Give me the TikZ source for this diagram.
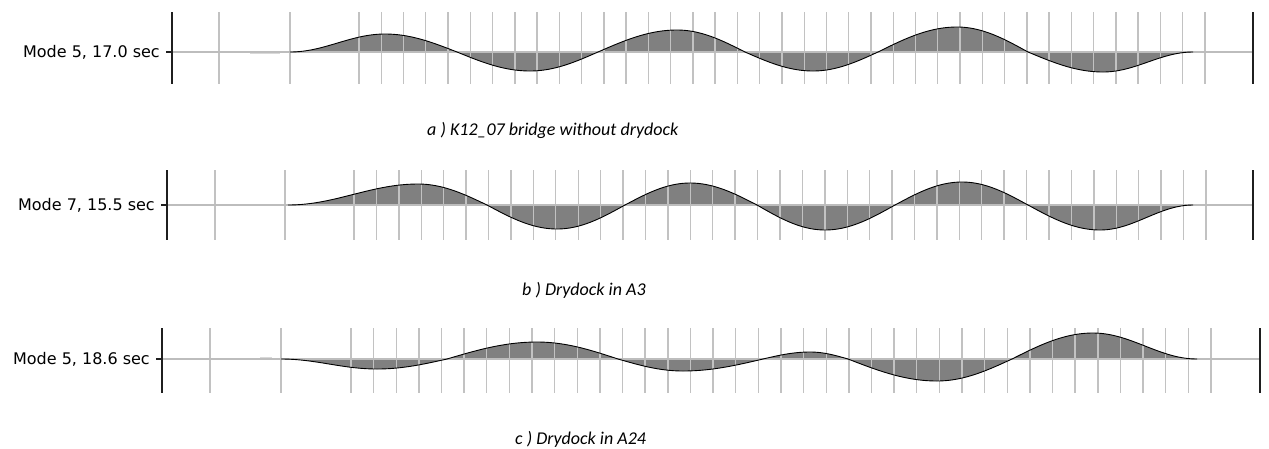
\documentclass[tikz,border=0pt]{standalone}
\usepackage{fontspec}
\setmainfont{Carlito}
\newfontfamily\tickfont{DejaVu Sans}
\pgfdeclarelayer{background}
\pgfdeclarelayer{foreground}
\pgfsetlayers{background,main,foreground}
\tikzset{
	gridline/.style={line width=1.4pt, color=black!24},
	zeroline/.style={line width=1.4pt, color=black!26},
	axisline/.style={line width=1.4pt, color=black!88},
	wavefill/.style={fill=black!50},
	waveline/.style={line width=0.9pt, color=black},
	ticklabel/.style={font=\tickfont\fontsize{16}{19}\selectfont, anchor=east, inner sep=0pt},
	caption/.style={font=\fontsize{18}{22}\selectfont\itshape, anchor=base west, inner sep=0pt}
}
% one half wave: start, peak, end, height, rise power, fall power
\def\lobe(#1:#2:#3:#4:#5:#6){%
	\begin{pgfonlayer}{background}
		\fill[wavefill] (#1,0) -- plot[domain=#1:#2,samples=30] (\x,{#4*sin(90*(\x-#1)/(#2-#1))^#5})
			-- plot[domain=#2:#3,samples=30] (\x,{#4*cos(90*(\x-#2)/(#3-#2))^#6}) -- cycle;
	\end{pgfonlayer}
	\begin{pgfonlayer}{foreground}
		\draw[waveline] plot[domain=#1:#2,samples=30] (\x,{#4*sin(90*(\x-#1)/(#2-#1))^#5})
			-- plot[domain=#2:#3,samples=30] (\x,{#4*cos(90*(\x-#2)/(#3-#2))^#6});
	\end{pgfonlayer}
}

\begin{document}
\begin{tikzpicture}[x=1pt, y=-1pt]
	%%%%% START %%%%%
	\useasboundingbox (0,0) rectangle (1269,448);
	
	% a ) mode 5, 17.0 sec
	\foreach \gx in {219,290} \draw[gridline] (\gx,12) -- (\gx,84);
	\foreach \i in {0,...,38} \draw[gridline] ({359+\i*22.26},12) -- ({359+\i*22.26},84);
	\draw[line width=2pt, color=black!15] (250,52.5) -- (280,52.5);
	\draw[zeroline] (172,52) -- (1253,52);
	\begin{scope}[shift={(0,52)}, yscale=-1]
		\lobe(290:385:457:18:2:1)
		\lobe(457:530:598:-19:1:1)
		\lobe(598:677:745:22:1:1)
		\lobe(745:813:878:-19:1:1)
		\lobe(878:957:1028:25:1:1)
		\lobe(1028:1103:1193:-20:1:2)
	\end{scope}
	\draw[axisline] (172,12) -- (172,84);
	\draw[axisline] (1253,12) -- (1253,84);
	\draw[axisline] (166,52) -- (172,52);
	\node[ticklabel] (modeA) at (160,52) {Mode 5, 17.0 sec};
	\node[caption] (capA) at (427,135) {a ) K12\_07 bridge without drydock};
	
	% b ) mode 7, 15.5 sec
	\foreach \gx in {215,285} \draw[gridline] (\gx,170) -- (\gx,240);
	\foreach \i in {0,...,38} \draw[gridline] ({354+\i*22.42},170) -- ({354+\i*22.42},240);
	\draw[zeroline] (167,205) -- (1253,205);
	\begin{scope}[shift={(0,205)}, yscale=-1]
		\lobe(288:418:487:21:2:1)
		\lobe(487:557:625:-24:1:1)
		\lobe(625:690:757:22:1:1)
		\lobe(757:825:895:-25:1:1)
		\lobe(895:962:1028:23:1:1)
		\lobe(1028:1100:1193:-25:1:2)
	\end{scope}
	\draw[axisline] (167,170) -- (167,240);
	\draw[axisline] (1253,170) -- (1253,240);
	\draw[axisline] (161,205) -- (167,205);
	\node[ticklabel] (modeB) at (155,205) {Mode 7, 15.5 sec};
	\node[caption] (capB) at (522,295) {b ) Drydock in A3};
	
	% c ) mode 5, 18.6 sec
	\foreach \gx in {210,281} \draw[gridline] (\gx,328) -- (\gx,393);
	\foreach \i in {0,...,38} \draw[gridline] ({351+\i*22.63},328) -- ({351+\i*22.63},393);
	\draw[line width=2pt, color=black!15] (260,357.5) -- (272,357.5);
	\draw[zeroline] (162,359) -- (1260,359);
	\begin{scope}[shift={(0,359)}, yscale=-1]
		\lobe(281:377:447:-10:2:1)
		\lobe(447:537:618:17:1:1)
		\lobe(618:683:763:-12:1:1)
		\lobe(763:810:848:7:1:1)
		\lobe(848:937:1012:-22:1:1)
		\lobe(1012:1093:1197:26:1:2)
	\end{scope}
	\draw[axisline] (162,328) -- (162,393);
	\draw[axisline] (1260,328) -- (1260,393);
	\draw[axisline] (156,359) -- (162,359);
	\node[ticklabel] (modeC) at (150,359) {Mode 5, 18.6 sec};
	\node[caption] (capC) at (515,444) {c ) Drydock in A24};
	
	%%%%% END %%%%%
\end{tikzpicture}
\end{document}
